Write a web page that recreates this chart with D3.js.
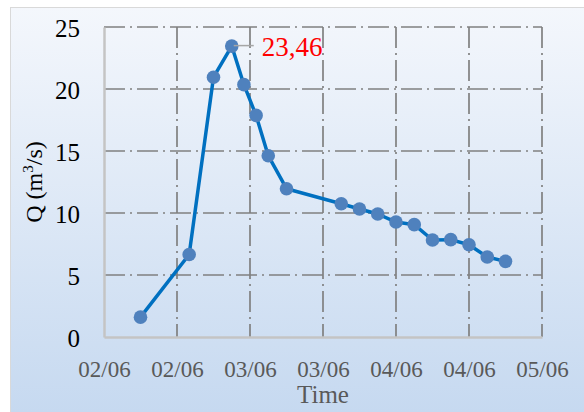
<html>
<script src='https://d3js.org/d3.v7.min.js'></script>
<head>
    <meta charset="UTF-8">
    <style>
        body {
            margin: 0;
            background: #ffffff;
        }
        svg {
            display: block;
        }
        text {
            font-family: "Liberation Serif", "Times New Roman", serif;
        }
    </style>
</head>
<body>
<svg width=584 height=412></svg>
</body>
<script>
    // values
    const times = ["2019-06-02 06:00", "2019-06-02 14:00", "2019-06-02 18:00", "2019-06-02 21:00",
                   "2019-06-02 23:00", "2019-06-03 01:00", "2019-06-03 03:00", "2019-06-03 06:00",
                   "2019-06-03 15:00", "2019-06-03 18:00", "2019-06-03 21:00", "2019-06-04 00:00",
                   "2019-06-04 03:00", "2019-06-04 06:00", "2019-06-04 09:00", "2019-06-04 12:00",
                   "2019-06-04 15:00", "2019-06-04 18:00"];
    const discharge = [1.6, 6.65, 20.95, 23.46, 20.35, 17.87, 14.62, 11.96, 10.75, 10.32,
                       9.92, 9.27, 9.06, 7.82, 7.85, 7.44, 6.45, 6.1];
    const xDomain = ["2019-06-02 00:00", "2019-06-05 00:00"];
    const yTicks = [0, 5, 10, 15, 20, 25];
    const peakLabel = "23,46";

    const parse = d3.utcParse("%Y-%m-%d %H:%M");
    const data = times.map((t, i) => ({t: parse(t), q: discharge[i]}));

    const margin = {top: 27, right: 42, bottom: 75, left: 104},
          W = 584, H = 412,
          width = W - margin.left - margin.right,
          height = H - margin.top - margin.bottom;

    const svg = d3.select("svg");

    const defs = svg.append("defs");
    const grad = defs.append("linearGradient")
        .attr("id", "bg").attr("x1", 0).attr("y1", 0).attr("x2", 0).attr("y2", 1);
    grad.append("stop").attr("offset", "0%").attr("stop-color", "#f4f7fc");
    grad.append("stop").attr("offset", "100%").attr("stop-color", "#c6d9f0");

    svg.append("rect")
        .attr("x", 10.5).attr("y", 7.5)
        .attr("width", W - 10).attr("height", H - 7)
        .attr("fill", "url(#bg)")
        .attr("stroke", "#d9d9d9");

    const g = svg.append("g")
        .attr("transform", `translate(${margin.left},${margin.top})`);

    const x = d3.scaleUtc()
        .domain(xDomain.map(parse))
        .range([0, width]);
    const y = d3.scaleLinear()
        .domain([0, 25])
        .range([height, 0]);

    const xTicks = d3.utcHour.every(12).range(x.domain()[0], d3.utcHour.offset(x.domain()[1], 1));

    // grid
    const dash = "21,5,2,5";
    g.append("g")
        .selectAll("line")
        .data(yTicks.filter(d => d > 0))
        .enter().append("line")
        .attr("x1", 0).attr("x2", width)
        .attr("y1", d => y(d)).attr("y2", d => y(d))
        .attr("stroke", "#808080")
        .attr("stroke-width", 1.7)
        .attr("stroke-dasharray", dash);
    g.append("g")
        .selectAll("line")
        .data(xTicks.slice(1))
        .enter().append("line")
        .attr("x1", d => x(d)).attr("x2", d => x(d))
        .attr("y1", 0).attr("y2", height)
        .attr("stroke", "#808080")
        .attr("stroke-width", 1.7)
        .attr("stroke-dasharray", dash);

    // axes
    const xAxis = g.append("g")
        .attr("transform", `translate(0,${height})`)
        .call(d3.axisBottom(x).tickValues(xTicks).tickFormat(d3.utcFormat("%d/%m")).tickSize(0).tickPadding(24));
    xAxis.select(".domain").attr("stroke", "#c4c4c4").attr("stroke-width", 2.5);
    xAxis.selectAll("text")
        .attr("fill", "#595959")
        .style("font-family", "Liberation Serif")
        .style("font-size", "23px");

    const yAxis = g.append("g")
        .call(d3.axisLeft(y).tickValues(yTicks).tickSize(0).tickPadding(24));
    yAxis.select(".domain").attr("stroke", "#c4c4c4").attr("stroke-width", 2.5);
    yAxis.selectAll("text")
        .attr("fill", "#000000")
        .attr("dy", "0.36em")
        .style("font-family", "Liberation Serif")
        .style("font-size", "25px");

    // line and markers
    const line = d3.line()
        .x(d => x(d.t))
        .y(d => y(d.q));

    g.append("path")
        .datum(data)
        .attr("d", line)
        .attr("fill", "none")
        .attr("stroke", "#0070c0")
        .attr("stroke-width", 3.5)
        .attr("stroke-linejoin", "round");

    g.selectAll("circle")
        .data(data)
        .enter().append("circle")
        .attr("cx", d => x(d.t))
        .attr("cy", d => y(d.q))
        .attr("r", 6.8)
        .attr("fill", "#4f81bd");

    // peak label
    const peak = data[d3.maxIndex(data, d => d.q)];
    g.append("line")
        .attr("x1", x(peak.t) + 2).attr("x2", x(peak.t) + 22)
        .attr("y1", y(peak.q) - 0.5).attr("y2", y(peak.q) - 0.5)
        .attr("stroke", "#a6a6a6")
        .attr("stroke-width", 1.5);
    g.append("text")
        .attr("x", x(peak.t) + 30)
        .attr("y", y(peak.q) + 10)
        .attr("fill", "#ff0000")
        .style("font-size", "27px")
        .text(peakLabel);

    // titles
    svg.append("text")
        .attr("x", margin.left + width / 2)
        .attr("y", 403)
        .attr("text-anchor", "middle")
        .attr("fill", "#595959")
        .style("font-size", "25px")
        .text("Time");

    svg.append("text")
        .attr("transform", `translate(42,${margin.top + height / 2}) rotate(-90)`)
        .attr("text-anchor", "middle")
        .attr("fill", "#000000")
        .style("font-size", "24px")
        .html("Q (m<tspan dy='-9' font-size='15px'>3</tspan><tspan dy='9'>/s)</tspan>");
</script>
</html>
